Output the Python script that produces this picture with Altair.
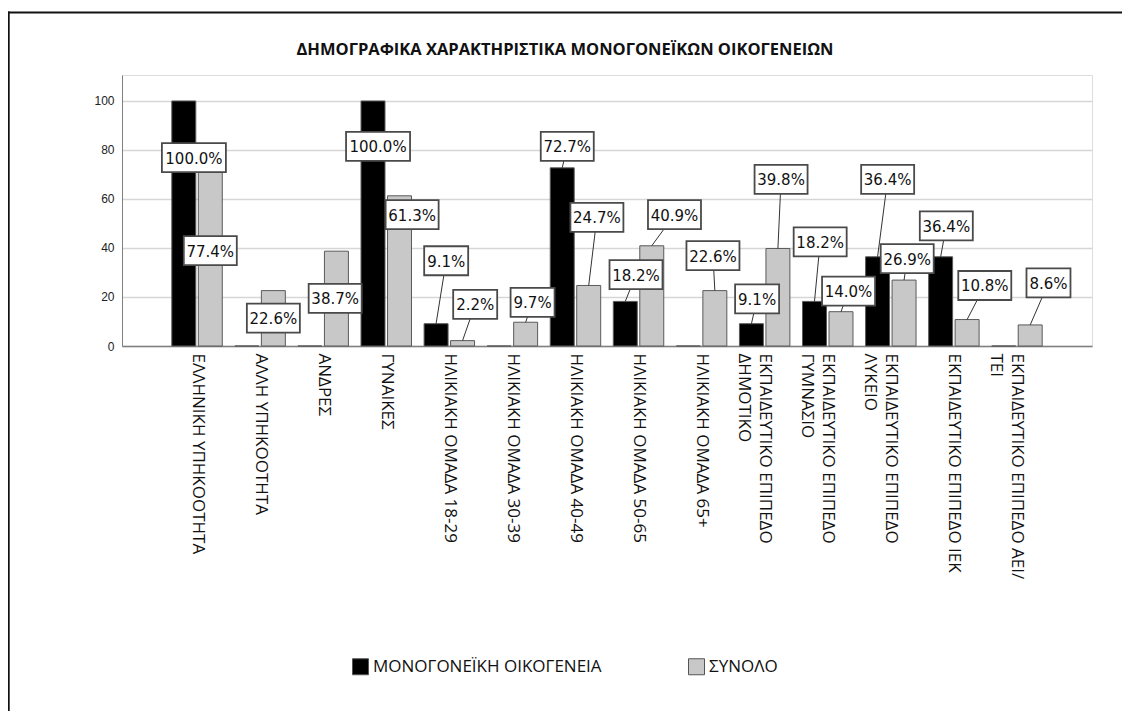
import json
import altair as alt
import pandas as pd

TITLE = "ΔΗΜΟΓΡΑΦΙΚΑ ΧΑΡΑΚΤΗΡΙΣΤΙΚΑ ΜΟΝΟΓΟΝΕΪΚΩΝ ΟΙΚΟΓΕΝΕΙΩΝ"

CATEGORIES = [
    ["ΕΛΛΗΝΙΚΗ ΥΠΗΚΟΟΤΗΤΑ"],
    ["ΑΛΛΗ ΥΠΗΚΟΟΤΗΤΑ"],
    ["ΑΝΔΡΕΣ"],
    ["ΓΥΝΑΙΚΕΣ"],
    ["ΗΛΙΚΙΑΚΗ ΟΜΑΔΑ 18-29"],
    ["ΗΛΙΚΙΑΚΗ ΟΜΑΔΑ 30-39"],
    ["ΗΛΙΚΙΑΚΗ ΟΜΑΔΑ 40-49"],
    ["ΗΛΙΚΙΑΚΗ ΟΜΑΔΑ 50-65"],
    ["ΗΛΙΚΙΑΚΗ ΟΜΑΔΑ 65+"],
    ["ΕΚΠΑΙΔΕΥΤΙΚΟ ΕΠΙΠΕΔΟ", "ΔΗΜΟΤΙΚΟ"],
    ["ΕΚΠΑΙΔΕΥΤΙΚΟ ΕΠΙΠΕΔΟ", "ΓΥΜΝΑΣΙΟ"],
    ["ΕΚΠΑΙΔΕΥΤΙΚΟ ΕΠΙΠΕΔΟ", "ΛΥΚΕΙΟ"],
    ["ΕΚΠΑΙΔΕΥΤΙΚΟ ΕΠΙΠΕΔΟ ΙΕΚ"],
    ["ΕΚΠΑΙΔΕΥΤΙΚΟ ΕΠΙΠΕΔΟ ΑΕΙ/", "ΤΕΙ"],
]

SERIES = ["ΜΟΝΟΓΟΝΕΪΚΗ ΟΙΚΟΓΕΝΕΙΑ", "ΣΥΝΟΛΟ"]

SINGLE_PARENT = [100.0, 0.0, 0.0, 100.0, 9.1, 0.0, 72.7, 18.2, 0.0, 9.1, 18.2, 36.4, 36.4, 0.0]
TOTAL = [77.4, 22.6, 38.7, 61.3, 2.2, 9.7, 24.7, 40.9, 22.6, 39.8, 14.0, 26.9, 10.8, 8.6]

# label-box placement (offset from category centre in category units, height in %)
SINGLE_PARENT_LABEL_DX = [-0.05, 0, 0, -0.13, -0.05, 0, -0.13, -0.04, 0, -0.12, -0.12, -0.05, -0.12, 0]
SINGLE_PARENT_LABEL_Y = [76.9, 0, 0, 81.5, 34.8, 0, 81.5, 29.1, 0, 19.2, 42.5, 68.0, 49.0, 0]
TOTAL_LABEL_DX = [0.21, 0.21, 0.19, 0.41, 0.41, 0.32, 0.34, 0.57, 0.18, 0.26, 0.33, 0.26, 0.49, 0.50]
TOTAL_LABEL_Y = [38.9, 11.4, 19.4, 53.6, 17.0, 17.8, 52.5, 53.6, 36.9, 68.0, 22.4, 35.7, 24.7, 25.8]

rows = []
for i in range(len(CATEGORIES)):
    for s, vals, dxs, ys, (a, b) in [
        (SERIES[0], SINGLE_PARENT, SINGLE_PARENT_LABEL_DX, SINGLE_PARENT_LABEL_Y, (-0.40, -0.02)),
        (SERIES[1], TOTAL, TOTAL_LABEL_DX, TOTAL_LABEL_Y, (0.02, 0.40)),
    ]:
        v = vals[i]
        lab = f"{v:.1f}%"
        rows.append(dict(idx=i, series=s, value=v, x0=i + a, x1=i + b, xc=i + (a + b) / 2,
                         label=lab, nch=len(lab), lx=i + dxs[i], ly=ys[i]))
df = pd.DataFrame(rows)
lab_df = df[df["value"] > 0]

x_scale = alt.Scale(domain=[-1.19, 14.19], nice=False, zero=False)
y_scale = alt.Scale(domain=[0, 110.6], nice=False)

label_expr = json.dumps([c if len(c) > 1 else c[0] for c in CATEGORIES], ensure_ascii=False) + "[datum.value]"

bars = alt.Chart(df).mark_bar(stroke="#5a5a5a", strokeWidth=1).encode(
    x=alt.X("x0:Q", scale=x_scale, title=None,
            axis=alt.Axis(values=list(range(len(CATEGORIES))), labelExpr=label_expr, labelAngle=90,
                          labelFont="Open Sans", labelFontSize=17, labelColor="#111", labelLimit=0,
                          labelOverlap=False, labelFlush=False, labelBound=False, labelPadding=7,
                          labelLineHeight=21, ticks=False, grid=False, domainColor="#808080",
                          domainWidth=1.5)),
    x2="x1:Q",
    y=alt.Y("value:Q", scale=y_scale, title=None,
            axis=alt.Axis(values=[0, 20, 40, 60, 80, 100], ticks=False, labelPadding=8,
                          labelFont="Liberation Sans", labelFontSize=12, labelColor="#222",
                          grid=True, gridColor="#d6d6d6", gridWidth=1.5, domainColor="#808080")),
    y2=alt.datum(0),
    color=alt.Color("series:N", scale=alt.Scale(domain=SERIES, range=["#000000", "#c8c8c8"]),
                    legend=alt.Legend(title=None, orient="none", direction="horizontal",
                                      legendX=230, legendY=583, symbolType="square", symbolSize=256,
                                      symbolStrokeColor="#555", symbolStrokeWidth=1,
                                      labelFont="Open Sans", labelFontSize=17, labelColor="#111",
                                      labelOffset=4, columnPadding=84, labelLimit=0)),
)

leaders = alt.Chart(lab_df).transform_filter("datum.ly > datum.value").mark_rule(
    color="#333", strokeWidth=1).encode(
    x=alt.X("lx:Q", scale=x_scale), y=alt.Y("ly:Q", scale=y_scale), x2="xc:Q", y2="value:Q")

BOX_PATHS = ["M-22,-14.5H22V14.5H-22Z", "M-26.5,-14.5H26.5V14.5H-26.5Z", "M-32,-14.5H32V14.5H-32Z"]
boxes = alt.Chart(lab_df).mark_point(filled=True, fill="white", stroke="#4a4a4a", strokeWidth=1.8,
                                     size=4, opacity=1, fillOpacity=1).encode(
    x=alt.X("lx:Q", scale=x_scale), y=alt.Y("ly:Q", scale=y_scale),
    shape=alt.Shape("nch:N", scale=alt.Scale(domain=[4, 5, 6], range=BOX_PATHS), legend=None))

texts = alt.Chart(lab_df).mark_text(font="DejaVu Sans", fontSize=15, color="#111",
                                    align="center", baseline="middle", dy=1).encode(
    x=alt.X("lx:Q", scale=x_scale), y=alt.Y("ly:Q", scale=y_scale), text="label:N")

one = pd.DataFrame({"k": [0]})
title = alt.Chart(one).mark_text(text=TITLE, font="Open Sans", fontSize=16.5, fontWeight="bold",
                                 color="#111", align="center", baseline="alphabetic").encode(
    x=alt.value(443), y=alt.value(-20))
frame_top = alt.Chart(one).mark_rule(color="#111", strokeWidth=2).encode(
    x=alt.value(-114), x2=alt.value(1010), y=alt.value(-62.5))
frame_left = alt.Chart(one).mark_rule(color="#111", strokeWidth=2).encode(
    x=alt.value(-113.3), y=alt.value(-63.5), y2=alt.value(640))

chart = alt.layer(bars, leaders, boxes, texts, title, frame_top, frame_left).properties(
    width=970, height=271,
    autosize=alt.AutoSizeParams(type="none"),
    padding={"left": 114, "top": 67, "right": 30, "bottom": 365},
).configure_view(stroke=None).configure(background="white")

chart.save("out.html", embed_options={"renderer": "svg", "actions": False})
